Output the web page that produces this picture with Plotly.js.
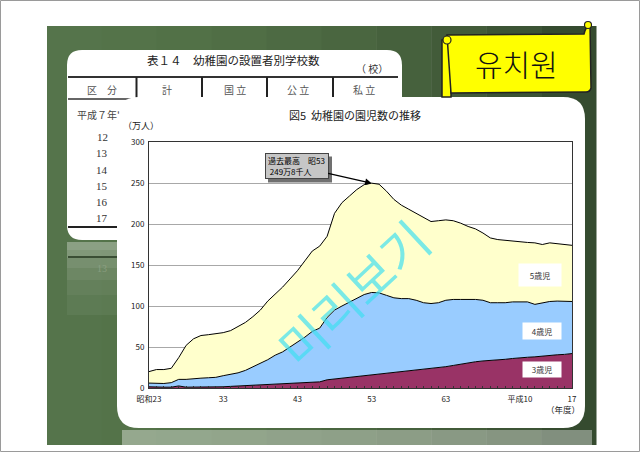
<!DOCTYPE html>
<html><head><meta charset="utf-8">
<script src="https://cdn.plot.ly/plotly-3.0.1.min.js"></script>
<style>html,body{margin:0;padding:0;background:#fff;}#chart{width:640px;height:452px;}</style>
</head><body><div id="chart"></div>
<script>
// ---- data (万人), fiscal years 昭和23 (1948) .. 平成17 (2005)
const years = [1948,1949,1950,1951,1952,1953,1954,1955,1956,1957,1958,1959,1960,1961,1962,1963,1964,1965,1966,1967,1968,1969,1970,1971,1972,1973,1974,1975,1976,1977,1978,1979,1980,1981,1982,1983,1984,1985,1986,1987,1988,1989,1990,1991,1992,1993,1994,1995,1996,1997,1998,1999,2000,2001,2002,2003,2004,2005];
const age3 = [1.5,1,1,1,2.5,1,1,1,1,1,1.5,2,2.5,2.5,3,3.5,4,4.5,5,5.5,6,6.5,7,7.5,10,11,12,13,14,15,16,17,18,19,20,21,22,22.5,23.5,25,26,27.5,29,31,32,33,33.5,34,35,36,37,37.5,38,39,40,40.5,41,42];
const age4 = [4.5,4.5,4.5,5.5,8,9.5,10.5,11,11.5,12,13.5,14.5,16,19,22.5,26,30.5,35.5,39,44.5,49.5,55.5,62,65.5,76,84,88,92,96,99,100.5,99,95,91,89,88,85,81.5,79.5,79,81,80.5,79,77,76,74,70.5,70,69,69,68,67.5,64,65,65.5,65.5,64.5,63.5];
const age5 = [14,17,17,17.5,26.5,41.5,48.5,52,52.5,53,52.5,53.5,56,58.5,61.5,65.5,71.5,74,79,83,87.5,93,98,100,99,118,126,129,132,134,133.3,132.5,127,120,114,109,106,104,100,100,98,96,93,89,86,82,79,77,76,74,73,72.5,75,71,71.5,70,69.5,68.5];
const seriesNames = ['3歳児','4歳児','5歳児'];
const tickYears = [1948,1958,1968,1978,1988,1998,2005];
const tickLabels = ['昭和23','33','43','53','63','平成10','17'];
const peakYear = 1978, peakValue = 249.8;
const tableRows = ["12","13","14","15","16","17"];

// ---- geometry helpers (pixel -> paper)
const PL=149, PR=572, PT=142, PB=388;
const fx = p => (p-PL)/(PR-PL);
const fy = p => (PB-p)/(PB-PT);
const JP = "'Noto Sans CJK JP', sans-serif";
const KR = "'Noto Sans CJK KR', sans-serif";
const SERIF = "'Liberation Serif', 'Noto Sans CJK JP', serif";

function rect(x0,y0,x1,y1,fill,lc,lw,layer){
  return {type:'rect',xref:'paper',yref:'paper',x0:fx(x0),x1:fx(x1),y0:fy(y1),y1:fy(y0),
    fillcolor:fill,line:{color:lc||'rgba(0,0,0,0)',width:lw||0},layer:layer||'below'};
}
function line(x0,y0,x1,y1,c,w,layer){
  return {type:'line',xref:'paper',yref:'paper',x0:fx(x0),x1:fx(x1),y0:fy(y0),y1:fy(y1),
    line:{color:c,width:w},layer:layer||'below'};
}
function P(x,y){return fx(x).toFixed(5)+','+fy(y).toFixed(5);}
function rrect(x0,y0,x1,y1,r,fill,lc,lw){
  const d='M'+P(x0+r,y0)+'L'+P(x1-r,y0)+'Q'+P(x1,y0)+' '+P(x1,y0+r)+'L'+P(x1,y1-r)+'Q'+P(x1,y1)+' '+P(x1-r,y1)+
          'L'+P(x0+r,y1)+'Q'+P(x0,y1)+' '+P(x0,y1-r)+'L'+P(x0,y0+r)+'Q'+P(x0,y0)+' '+P(x0+r,y0)+'Z';
  return {type:'path',xref:'paper',yref:'paper',path:d,fillcolor:fill,line:{color:lc||'rgba(0,0,0,0)',width:lw||0},layer:'below'};
}
function circ(cx,cy,r,fill,lc,lw){
  return {type:'circle',xref:'paper',yref:'paper',x0:fx(cx-r),x1:fx(cx+r),y0:fy(cy+r),y1:fy(cy-r),
    fillcolor:fill,line:{color:lc,width:lw},layer:'below'};
}
function txt(x,y,s,size,opts){
  opts=opts||{};
  return Object.assign({xref:'paper',yref:'paper',x:fx(x),y:fy(y),text:s,showarrow:false,
    xanchor:'center',yanchor:'middle',
    font:{size:size,family:opts.family||JP,color:opts.color||'#222',weight:opts.weight||'normal'}},opts.extra||{});
}

const shapes=[];
// page frame
shapes.push(rect(0.5,0.5,639.5,451.5,'#ffffff','#9a9a9a',1));
// green board with slight left->right darkening
const greens=['#55744b','#547349','#527147','#506e45','#4d6a43','#4a6640','#46613d','#425b39','#3c5435','#354b2f'];
const gx0=47, gx1=596, gw=(gx1-gx0)/greens.length;
greens.forEach((c,i)=>shapes.push(rect(gx0+i*gw,26,gx0+(i+1)*gw+0.5,445,c)));
// reflections (fading)
const refl=[[242,250,0.32],[250,258,0.26],[258,268,0.2],[268,280,0.14],[280,295,0.09],[295,315,0.05]];
refl.forEach(r=>shapes.push(rect(67,r[0],118,r[1],'rgba(255,255,255,'+r[2]+')')));
shapes.push(line(68,257,117,257,'rgba(40,60,35,0.8)',2));
shapes.push(rect(122,430,592,445,'rgba(255,255,255,0.38)'));
// table card
shapes.push(rrect(67,50,402,240,15,'#ffffff'));
shapes.push(line(68,77,398,77,'#333',2));
[136.5,202,267,333].forEach(x=>shapes.push(line(x,77,x,98,'#222',2)));
shapes.push(line(68,99,134,99,'#333',1.5));
shapes.push(line(68,227,117,227,'#222',2));
// chart card
shapes.push(rrect(117,97,585,428,22,'#ffffff'));
// flag
shapes.push(rect(442,40,451,97,'#ffff00','#222',1.5));
shapes.push({type:'path',xref:'paper',yref:'paper',layer:'below',fillcolor:'#ffff00',line:{color:'#222',width:1.5},
  path:'M'+P(447,35)+'L'+P(584,34)+'Q'+P(586,26)+' '+P(590,24)+'L'+P(591,88)+'Q'+P(590,92)+' '+P(586,92)+'L'+P(451,93)+'Z'});
shapes.push(circ(447,40,4,'#ffff00','#222',1.2));
shapes.push(circ(588,25,3.5,'#ffff00','#222',1.2));
// annotation box shadow
shapes.push(rect(268,156.5,332,182.5,'#707070',null,0,'above'));

const annotations=[];
// table texts
annotations.push(txt(233,60,'表１４　幼稚園の設置者別学校数',11.5,{color:'#222'}));
annotations.push(txt(372,68,'（ 校）',10,{color:'#333'}));
annotations.push(txt(102,89,'区　分',10,{color:'#555'}));
annotations.push(txt(167,89,'計',10,{color:'#555'}));
annotations.push(txt(235,89,'国 立',10,{color:'#555'}));
annotations.push(txt(298,89,'公 立',10,{color:'#555'}));
annotations.push(txt(364,89,'私 立',10,{color:'#555'}));
annotations.push(txt(98,115,"平成７年'",10,{color:'#444'}));
const rowY=[137,153,170,186,202,218];
tableRows.forEach((r,i)=>annotations.push(txt(102,rowY[i],r,11,{family:SERIF,color:'#333'})));
annotations.push(txt(102,268,'13',10,{family:SERIF,color:'rgba(150,168,140,0.7)'}));
// flag text
annotations.push(txt(516,63,'유치원',30,{family:KR,color:'#111',weight:300}));
// chart texts
annotations.push(txt(355,115,'図5  幼稚園の園児数の推移',11,{color:'#222'}));
annotations.push(txt(141,125,'（万人）',9,{color:'#222'}));
annotations.push(txt(563,409,'（年度）',8.5,{color:'#222'}));
// age labels
annotations.push(txt(539.5,274.5,seriesNames[2],8,{color:'#333',extra:{bgcolor:'#ffffff',width:38,height:18,borderpad:2}}));
annotations.push(txt(541.5,330.5,seriesNames[1],8,{color:'#333',extra:{bgcolor:'#ffffff',width:36,height:14,borderpad:1}}));
annotations.push(txt(541.5,369.5,seriesNames[0],8,{color:'#333',extra:{bgcolor:'#ffffff',width:36,height:13,borderpad:1}}));
// peak callout
annotations.push({x:peakYear,y:peakValue,xref:'x',yref:'y',ax:-75,ay:-17,axref:'pixel',ayref:'pixel',
  text:'過去最高　昭53<br>\u00a0249万8千人',showarrow:true,arrowhead:2,arrowsize:1,arrowwidth:1.3,arrowcolor:'#000',
  align:'left',bgcolor:'#c6c6c6',bordercolor:'#444',borderwidth:1,borderpad:2,width:58,height:20,
  font:{size:8,family:JP,color:'#000'}});
// watermark
annotations.push(txt(352,292,'미리보기',50,{family:KR,color:'rgba(60,222,240,0.68)',weight:'normal',extra:{textangle:-43}}));

const mk=(y,name,color,first)=>({x:years,y:y,name:name,type:'scatter',mode:'lines',stackgroup:'one',
  fill:first?'tozeroy':'tonexty',fillcolor:color,line:{color:'#000',width:1},hoverinfo:'skip'});
const data=[mk(age3,seriesNames[0],'#993366',true),mk(age4,seriesNames[1],'#99ccff'),mk(age5,seriesNames[2],'#ffffcc')];

const layout={width:640,height:452,margin:{l:PL,r:640-PR,t:PT,b:452-PB,pad:0},
  paper_bgcolor:'#ffffff',plot_bgcolor:'rgba(0,0,0,0)',showlegend:false,
  xaxis:{range:[1948,2005],tickmode:'array',tickvals:tickYears,ticktext:tickLabels,ticks:'inside',ticklen:2,
    tickcolor:'#333',showgrid:false,zeroline:false,showline:true,mirror:true,linecolor:'#333',linewidth:1,
    ticklabelstandoff:3,tickfont:{size:8,family:JP,color:'#222'},
    minor:{tickmode:'linear',tick0:1948,dtick:1,ticks:'inside',ticklen:2,tickcolor:'#333',showgrid:false}},
  yaxis:{range:[0,300],dtick:50,ticks:'',showgrid:true,gridcolor:'#a8a8a8',gridwidth:1,zeroline:false,
    showline:true,mirror:true,linecolor:'#333',linewidth:1,ticklabelstandoff:2,tickfont:{size:8,family:JP,color:'#222'}},
  shapes:shapes,annotations:annotations,hovermode:false};
Plotly.newPlot('chart',data,layout,{staticPlot:true,displayModeBar:false});
</script></body></html>
